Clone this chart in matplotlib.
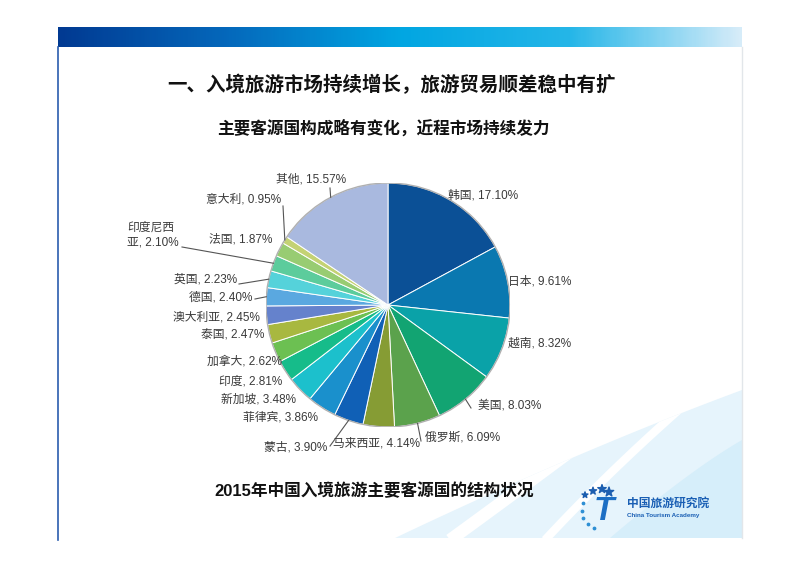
import numpy as np
import matplotlib
matplotlib.use("Agg")
import matplotlib.pyplot as plt
from matplotlib.colors import LinearSegmentedColormap
from matplotlib.patches import Polygon, Circle

plt.rcParams['font.family'] = ['Liberation Sans', 'Noto Sans CJK SC', 'DejaVu Sans']

# data (clockwise from 12 o'clock)
countries = ['韩国', '日本', '越南', '美国', '俄罗斯', '马来西亚', '蒙古', '菲律宾',
             '新加坡', '印度', '加拿大', '泰国', '澳大利亚', '德国', '英国',
             '印度尼西\n亚', '法国', '意大利', '其他']
shares = [17.10, 9.61, 8.32, 8.03, 6.09, 4.14, 3.90, 3.86,
          3.48, 2.81, 2.62, 2.47, 2.45, 2.40, 2.23,
          2.10, 1.87, 0.95, 15.57]
colors = ['#0b5096', '#0a78b0', '#0aa2a8', '#12a472', '#5ba24c', '#869c34', '#1060b6',
          '#1a90cc', '#1cc0cc', '#16bc8a', '#6cc052', '#a8b840', '#6582cc', '#5aa8e0',
          '#55d2da', '#5ccc9c', '#98cc72', '#c4d274', '#a9b9df']

title = '一、入境旅游市场持续增长，旅游贸易顺差稳中有扩'
subtitle = '主要客源国构成略有变化，近程市场持续发力'
caption = '2015年中国入境旅游主要客源国的结构状况'

# label layout in pixels: x, y, ha, leader start (or None)
label_pos = [
    (448, 196, 'left', None),
    (508, 282, 'left', None),
    (508, 343, 'left', None),
    (478, 405, 'left', (471, 408)),
    (425, 437, 'left', (421, 441)),
    (333, 443, 'left', None),
    (327, 448, 'right', (330, 446)),
    (318, 418, 'right', None),
    (296, 400, 'right', None),
    (282, 381, 'right', None),
    (282, 362, 'right', None),
    (264, 335, 'right', None),
    (260, 317, 'right', None),
    (252, 298, 'right', (255, 299)),
    (237, 280, 'right', (239, 284)),
    (127, 235, 'left', (182, 247)),
    (272, 240, 'right', None),
    (281, 199, 'right', (283, 206)),
    (346, 179, 'right', (330, 188)),
]

W, H = 800, 565
cx, cy, R = 388, 305, 122


def bez(p0, p1, p2, n=40):
    t = np.linspace(0, 1, n)[:, None]
    return (1 - t) ** 2 * np.array(p0) + 2 * (1 - t) * t * np.array(p1) + t ** 2 * np.array(p2)


fig = plt.figure(figsize=(8, 5.65), dpi=100)
fig.patch.set_facecolor('white')

# background / slide decoration
bg = fig.add_axes([0, 0, 1, 1], zorder=0)
bg.set_xlim(0, W)
bg.set_ylim(H, 0)
bg.axis('off')

bar_cmap = LinearSegmentedColormap.from_list(
    'bar', ['#013a92', '#0569bc', '#01a6e2', '#25b6e8', '#d6ecf9'])
grad = np.linspace(0, 1, 300).reshape(1, -1)
bg.imshow(grad, cmap=bar_cmap, extent=[58, 742, 47, 27], aspect='auto')

# pale swooshes at the bottom right
edge = bez((395, 538), (580, 450), (742, 390))
pale = Polygon(np.vstack([edge, [(742, 538)]]), closed=True,
               facecolor='#e6f4fc', edgecolor='none')
bg.add_patch(pale)
deep = Polygon(np.vstack([bez((610, 538), (690, 470), (742, 440)), [(742, 538)]]),
               closed=True, facecolor='#d6eefa', edgecolor='none')
bg.add_patch(deep)
for p0, p1, p2, lw in [((450, 540), (560, 460), (665, 380), 9),
                       ((545, 540), (610, 470), (690, 400), 6)]:
    s = bez(p0, p1, p2)
    ln, = bg.plot(s[:, 0], s[:, 1], color='white', lw=lw, solid_capstyle='butt')
    ln.set_clip_path(pale)
bg.plot([58, 58], [47, 540], color='#2a5cae', lw=1.2)
bg.plot([742, 742], [47, 538], color='#e2e6ea', lw=1)

# pie
pax = fig.add_axes([(cx - R) / W, (H - cy - R) / H, 2 * R / W, 2 * R / H], zorder=1)
wedges, _ = pax.pie(shares, colors=colors, startangle=90, counterclock=False, radius=1,
                    wedgeprops=dict(edgecolor='white', linewidth=0.7))
pax.add_patch(Circle((0, 0), 1, facecolor='none', edgecolor='#b0b0b0', lw=1))
pax.set_xlim(-1, 1)
pax.set_ylim(-1, 1)
pax.set_aspect('auto')
pax.axis('off')

# text overlay
top = fig.add_axes([0, 0, 1, 1], zorder=2)
top.set_xlim(0, W)
top.set_ylim(H, 0)
top.patch.set_alpha(0)
top.axis('off')

top.text(392, 85, title, fontsize=14, fontweight='bold', ha='center', va='center', color='#111111')
top.text(383, 128, subtitle, fontsize=12, fontweight='bold', ha='center', va='center', color='#111111')
top.text(374, 491, caption, fontsize=12, fontweight='bold', ha='center', va='center', color='#111111')

for name, val, w, (x, y, ha, lead) in zip(countries, shares, wedges, label_pos):
    top.text(x, y, f'{name}, {val:.2f}%', fontsize=8.5, ha=ha, va='center',
             color='#3a3a3a', linespacing=1.3)
    if lead is not None:
        a = np.deg2rad((w.theta1 + w.theta2) / 2)
        top.plot([lead[0], cx + R * np.cos(a)], [lead[1], cy - R * np.sin(a)],
                 color='#555555', lw=0.8)

# logo
top.scatter([585, 593, 602, 609], [495, 491, 489, 492], marker='*',
            s=[20, 30, 40, 50], color='#1e5fb0')
top.scatter([583, 582, 583, 588, 594], [503, 511, 518, 524, 528], s=3, color='#2e8fd4')
top.text(604, 511, 'T', fontsize=24, fontweight='bold', fontstyle='italic',
         color='#1d6fc4', ha='center', va='center')
top.text(627, 504, '中国旅游研究院', fontsize=8.5, fontweight='bold', color='#1a5fb4',
         ha='left', va='center')
top.text(627, 515, 'China Tourism Academy', fontsize=4.5, fontweight='bold', color='#1a5fb4',
         ha='left', va='center')

fig.savefig('out.png', dpi=100)
